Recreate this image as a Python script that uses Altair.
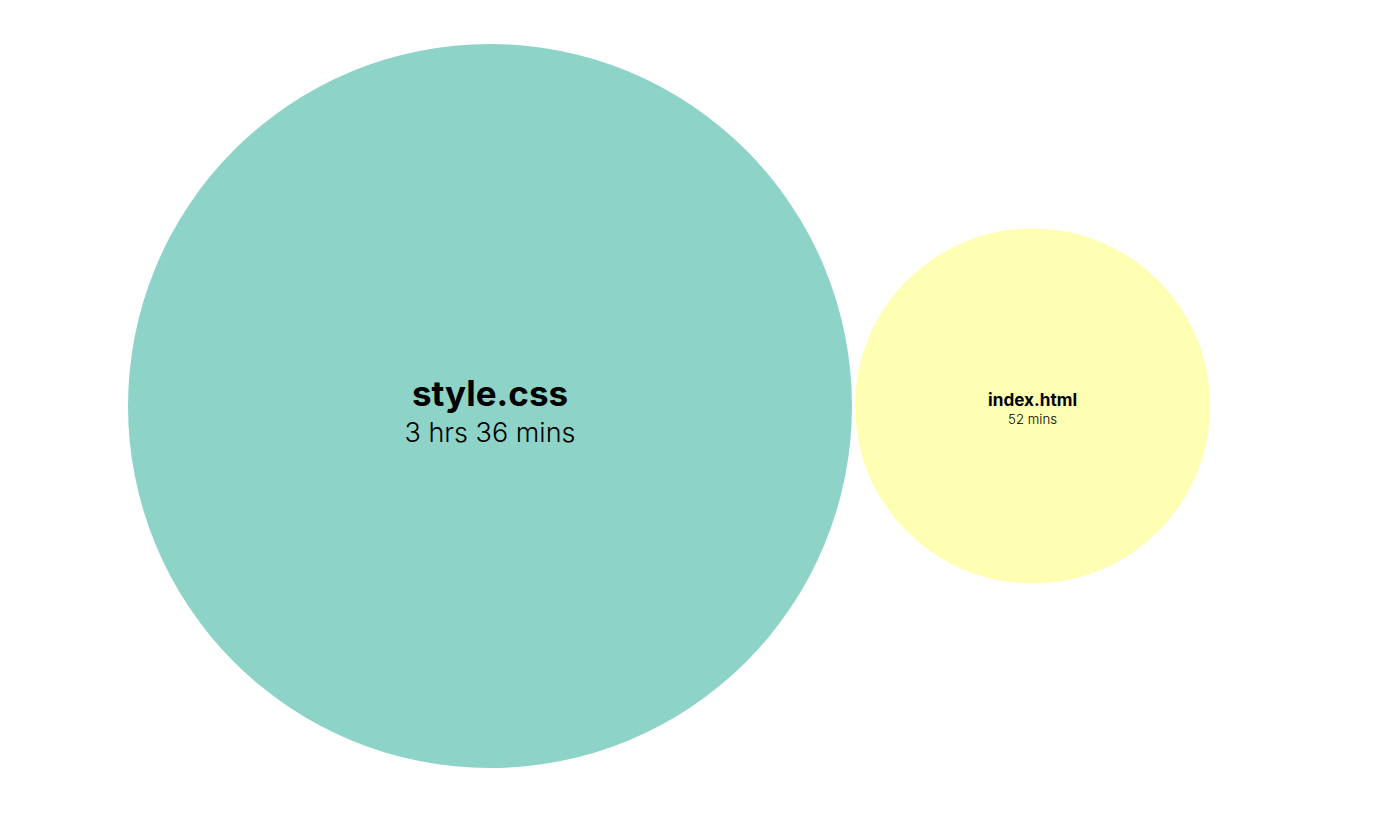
import math
import altair as alt
import pandas as pd

# ---- data ----
files = ["style.css", "index.html"]
minutes = [216, 52]
durations = ["3 hrs 36 mins", "52 mins"]
colors = ["#8dd3c7", "#ffffb3"]

# ---- simple side-by-side pack in "sqrt(minutes)" units ----
radii = [math.sqrt(m) for m in minutes]
gap = 0.12
centers = []
cur = 0.0
for r in radii:
    centers.append(cur + r)
    cur += 2 * r + gap

df = pd.DataFrame({
    "file": files,
    "minutes": minutes,
    "duration": durations,
    "cx": centers,
    "cy": [0.0] * len(files),
    "ty": [0.1 * r for r in radii],
})

W, H = 1382, 815
k = 362 / math.sqrt(216)          # pixels per unit
left_px, center_px = 128, 406
x_dom = [-left_px / k, (W - left_px) / k]
y_dom = [-center_px / k, (H - center_px) / k]

xs = alt.Scale(domain=x_dom, range=[0, W])
ys = alt.Scale(domain=y_dom, range=[0, H])
font = "Inter"

base = alt.Chart(df)

# Vega symbol size = (diameter)^2 for circles
circles = base.mark_circle(opacity=1, strokeWidth=0).encode(
    x=alt.X("cx:Q", scale=xs, axis=None),
    y=alt.Y("cy:Q", scale=ys, axis=None),
    size=alt.Size("minutes:Q", scale=alt.Scale(domain=[0, 216], range=[0, (2 * 362) ** 2]), legend=None),
    color=alt.Color("file:N", scale=alt.Scale(domain=files, range=colors), legend=None),
)

names = base.mark_text(font=font, fontWeight="bold", color="#000000", baseline="alphabetic", align="center").encode(
    x=alt.X("cx:Q", scale=xs, axis=None),
    y=alt.Y("cy:Q", scale=ys, axis=None),
    text="file:N",
    size=alt.Size("minutes:Q", scale=alt.Scale(type="sqrt", domain=[0, 216], range=[0, 35]), legend=None),
)

times = base.mark_text(font=font, fontWeight=300, color="#000000", baseline="alphabetic", align="center").encode(
    x=alt.X("cx:Q", scale=xs, axis=None),
    y=alt.Y("ty:Q", scale=ys, axis=None),
    text="duration:N",
    size=alt.Size("minutes:Q", scale=alt.Scale(type="sqrt", domain=[0, 216], range=[0, 27]), legend=None),
)

chart = alt.layer(circles, names, times).resolve_scale(size="independent").properties(
    width=W, height=H, autosize=alt.AutoSizeParams(type="none"), padding=0
).configure_view(stroke=None)

chart.save("out.html", embed_options={"renderer": "svg", "actions": False})
